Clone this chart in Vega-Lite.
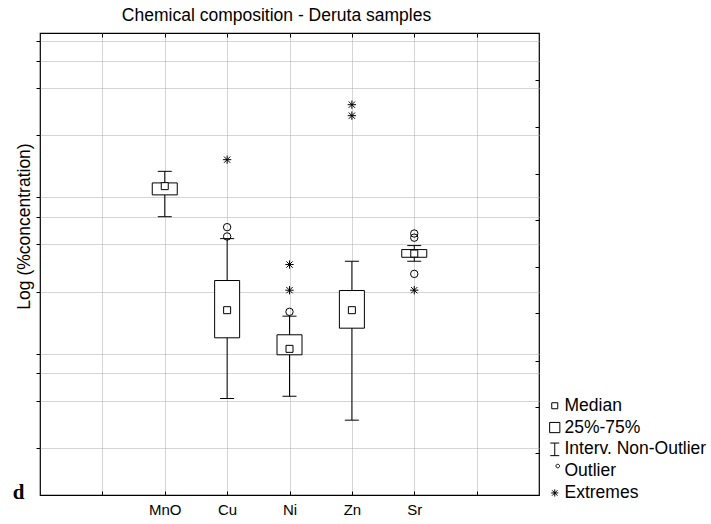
{
  "$schema": "https://vega.github.io/schema/vega-lite/v6.json",
  "width": 499,
  "height": 462,
  "autosize": {"type": "none"},
  "padding": {"left": 40, "top": 33, "right": 172, "bottom": 29},
  "background": "white",
  "title": {"text": "Chemical composition - Deruta samples", "font": "Liberation Sans", "fontSize": 17.5, "fontWeight": "normal", "color": "black", "offset": 8, "dx": -13, "frame": "group", "anchor": "middle"},
  "config": {
    "view": {"stroke": "black", "strokeWidth": 1.2},
    "axis": {"tickColor": "black", "domain": false, "gridColor": "#ababab", "gridDash": [1, 1], "gridWidth": 1}
  },
  "datasets": {
    "boxes": [
      {"element": "MnO", "wlo": 3.01, "q1": 4.15, "med": 4.72, "q3": 4.95, "whi": 5.87},
      {"element": "Cu", "wlo": 0.207, "q1": 0.506, "med": 0.76, "q3": 1.176, "whi": 2.18},
      {"element": "Ni", "wlo": 0.214, "q1": 0.394, "med": 0.43, "q3": 0.529, "whi": 0.696},
      {"element": "Zn", "wlo": 0.1505, "q1": 0.583, "med": 0.76, "q3": 1.015, "whi": 1.562},
      {"element": "Sr", "wlo": 1.562, "q1": 1.656, "med": 1.749, "q3": 1.855, "whi": 1.967}
    ],
    "outliers": [
      {"element": "Cu", "value": 2.58},
      {"element": "Cu", "value": 2.25},
      {"element": "Ni", "value": 0.742},
      {"element": "Sr", "value": 2.35},
      {"element": "Sr", "value": 2.21},
      {"element": "Sr", "value": 1.297}
    ],
    "extremes": [
      {"element": "Cu", "value": 6.97},
      {"element": "Ni", "value": 1.488},
      {"element": "Ni", "value": 1.02},
      {"element": "Zn", "value": 15.66},
      {"element": "Zn", "value": 13.32},
      {"element": "Sr", "value": 1.02}
    ]
  },
  "resolve": {"axis": {"x": "independent", "y": "independent"}},
  "layer": [
    {
      "data": {"name": "boxes"},
      "mark": {"type": "rule", "color": "black", "strokeWidth": 1},
      "encoding": {
        "x": {"field": "element", "type": "nominal", "sort": null,
          "scale": {"type": "point", "domain": [" ", "MnO", "Cu", "Ni", "Zn", "Sr", "  "], "padding": 1},
          "axis": {"orient": "bottom", "grid": true, "tickSize": -4, "labelPadding": 11, "labelFont": "Liberation Sans", "labelFontSize": 15, "labelColor": "black", "labelAngle": 0,
            "title": "d", "titleFont": "Liberation Serif", "titleFontWeight": "bold", "titleFontSize": 21, "titleColor": "black", "titleX": -22, "titleY": 3, "titleAlign": "center", "titleBaseline": "alphabetic"}},
        "y": {"field": "wlo", "type": "quantitative",
          "scale": {"type": "log", "domain": [0.05, 45], "nice": false},
          "axis": {"orient": "left", "values": [0.1, 0.2, 0.3, 0.4, 1, 2, 3, 4, 10, 20, 30, 40], "grid": true, "labels": false, "tickSize": 4,
            "title": "Log (%concentration)", "titleFont": "Liberation Sans", "titleFontSize": 17.5, "titleFontWeight": "normal", "titleColor": "black", "titleAngle": 270, "titleX": -11, "titleY": 193, "titleAlign": "center", "titleBaseline": "alphabetic"}},
        "y2": {"field": "whi"}
      }
    },
    {
      "data": {"name": "boxes"},
      "mark": {"type": "bar", "width": 25, "fill": "white", "stroke": "black", "strokeWidth": 1},
      "encoding": {
        "x": {"field": "element", "type": "nominal", "sort": null,
          "axis": {"orient": "top", "grid": false, "labels": false, "tickSize": -4, "title": null}},
        "y": {"field": "q1", "type": "quantitative",
          "axis": {"orient": "right", "values": [0.0922, 0.1815, 0.362, 0.734, 1.445, 2.88, 5.68, 11.33, 22.6], "grid": false, "labels": false, "tickSize": -4, "title": null}},
        "y2": {"field": "q3"}
      }
    },
    {
      "data": {"name": "boxes"},
      "mark": {"type": "tick", "orient": "horizontal", "size": 14, "thickness": 1, "color": "black", "opacity": 1},
      "encoding": {
        "x": {"field": "element", "type": "nominal", "sort": null, "axis": null},
        "y": {"field": "whi", "type": "quantitative", "axis": null}
      }
    },
    {
      "data": {"name": "boxes"},
      "mark": {"type": "tick", "orient": "horizontal", "size": 14, "thickness": 1, "color": "black", "opacity": 1},
      "encoding": {
        "x": {"field": "element", "type": "nominal", "sort": null, "axis": null},
        "y": {"field": "wlo", "type": "quantitative", "axis": null}
      }
    },
    {
      "data": {"name": "boxes"},
      "mark": {"type": "point", "shape": "square", "size": 49, "filled": true, "fill": "white", "stroke": "black", "strokeWidth": 1, "opacity": 1},
      "encoding": {
        "x": {"field": "element", "type": "nominal", "sort": null, "axis": null},
        "y": {"field": "med", "type": "quantitative", "axis": null}
      }
    },
    {
      "data": {"name": "outliers"},
      "mark": {"type": "point", "shape": "circle", "size": 55, "filled": false, "color": "black", "strokeWidth": 1, "opacity": 1},
      "encoding": {
        "x": {"field": "element", "type": "nominal", "sort": null, "axis": null},
        "y": {"field": "value", "type": "quantitative", "axis": null}
      }
    },
    {
      "data": {"name": "extremes"},
      "mark": {"type": "point", "shape": "M-1,0H1M0,-1V1M-0.75,-0.75L0.75,0.75M-0.75,0.75L0.75,-0.75", "size": 70, "filled": false, "color": "black", "strokeWidth": 1, "opacity": 1},
      "encoding": {
        "x": {"field": "element", "type": "nominal", "sort": null, "axis": null},
        "y": {"field": "value", "type": "quantitative", "axis": null}
      }
    },
    {
      "data": {"values": []},
      "mark": {"type": "point", "filled": false, "color": "black", "opacity": 1},
      "encoding": {
        "shape": {"field": "item", "type": "nominal",
          "scale": {"domain": ["Median", "25%-75%", "Interv. Non-Outlier", "Outlier", "Extremes"],
            "range": ["M-0.5,-0.5H0.5V0.5H-0.5Z", "M-0.85,-0.85H0.85V0.85H-0.85Z", "M-0.75,-1.05H0.75M0,-1.05V1.05M-0.75,1.05H0.75", "M0.8,-0.85A0.3,0.3,0,1,1,0.2,-0.85A0.3,0.3,0,1,1,0.8,-0.85Z", "M-0.6,0H0.6M0,-0.6V0.6M-0.45,-0.45L0.45,0.45M-0.45,0.45L0.45,-0.45"]},
          "legend": {"title": null, "orient": "none", "legendX": 506, "legendY": 364, "padding": 0, "symbolSize": 144, "symbolStrokeWidth": 1, "symbolStrokeColor": "black", "symbolFillColor": "white", "symbolOpacity": 1,
            "labelFont": "Liberation Sans", "labelFontSize": 17.5, "labelColor": "black", "labelOffset": 1, "rowPadding": 2.8, "labelLimit": 220}}
      }
    }
  ]
}
